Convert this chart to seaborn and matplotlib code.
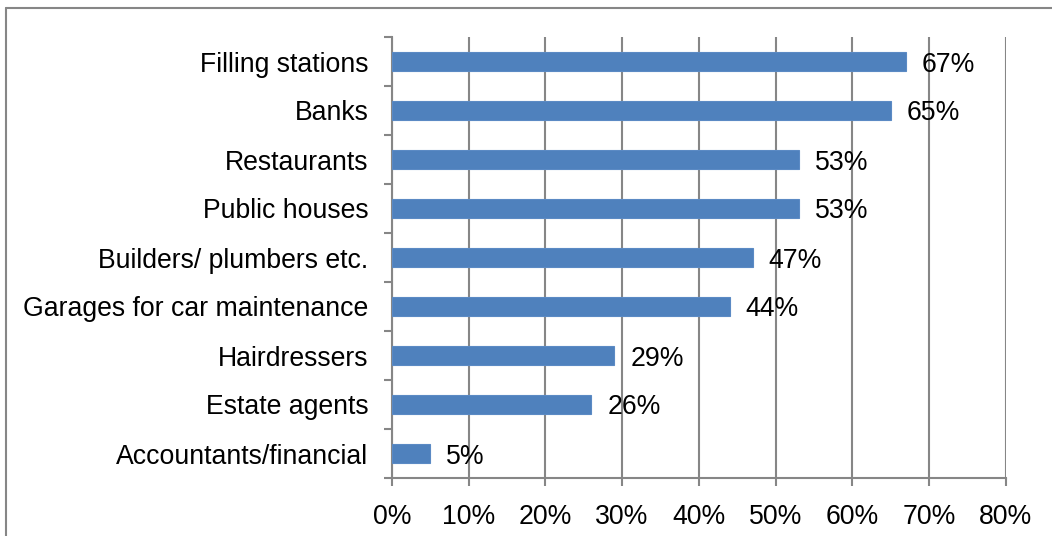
import matplotlib
matplotlib.use("Agg")
import matplotlib.pyplot as plt
from matplotlib.lines import Line2D
from matplotlib.ticker import FixedLocator, FuncFormatter
import seaborn as sns
import pandas as pd

categories = [
    "Filling stations",
    "Banks",
    "Restaurants",
    "Public houses",
    "Builders/ plumbers etc.",
    "Garages for car maintenance",
    "Hairdressers",
    "Estate agents",
    "Accountants/financial",
]
shares = [67, 65, 53, 53, 47, 44, 29, 26, 5]
x_ticks = [0, 10, 20, 30, 40, 50, 60, 70, 80]

sns.set_theme(style="white")
plt.rcParams["font.family"] = ["Liberation Sans", "DejaVu Sans"]

FS = 19.2
GRID = "#868686"
BAR = "#4F81BD"

df = pd.DataFrame({"category": categories, "share": shares})

fig = plt.figure(figsize=(10.52, 5.36), dpi=100)
ax = fig.add_axes([392 / 1052, 1 - 478 / 536, (1005.7 - 392) / 1052, (478 - 37) / 536])

sns.barplot(data=df, x="share", y="category", orient="h", color=BAR,
            saturation=1, width=0.4, ax=ax, zorder=3,
            edgecolor="#5B8AC4", linewidth=0.8)

ax.set_xlim(0, 80)
ax.set_ylim(len(categories) - 0.5, -0.5)
ax.set_xlabel("")
ax.set_ylabel("")

# vertical gridlines
ax.xaxis.set_major_locator(FixedLocator(x_ticks))
ax.xaxis.set_major_formatter(FuncFormatter(lambda v, _: f"{v:.0f}%"))
ax.grid(axis="x", color=GRID, linewidth=1.5, zorder=0)
ax.grid(axis="y", visible=False)
ax.set_axisbelow(True)

for side in ["top", "right"]:
    ax.spines[side].set_visible(False)
for side in ["left", "bottom"]:
    ax.spines[side].set_color(GRID)
    ax.spines[side].set_linewidth(1.5)

ax.tick_params(axis="x", which="major", length=6, width=1.5, color=GRID,
               labelsize=FS, labelcolor="black", pad=13, direction="out", bottom=True)
# category ticks sit at the boundaries between bars
ax.yaxis.set_minor_locator(FixedLocator([i - 0.5 for i in range(len(categories) + 1)]))
ax.tick_params(axis="y", which="minor", length=6, width=1.5, color=GRID, left=True, direction="out")
ax.tick_params(axis="y", which="major", length=0, labelsize=FS, labelcolor="black", pad=17)

for i, v in enumerate(shares):
    ax.annotate(f"{v}%", xy=(v, i), xytext=(16, -3), textcoords="offset pixels",
                ha="left", va="center", fontsize=FS, color="black", zorder=4)

# outer frame on the left and top edges
fig.add_artist(Line2D([5.5 / 1052, 5.5 / 1052], [0, 1 - 8 / 536], color=GRID, linewidth=1.5))
fig.add_artist(Line2D([5.5 / 1052, 1], [1 - 8 / 536, 1 - 8 / 536], color=GRID, linewidth=1.5))

fig.savefig("out.png", dpi=100)
